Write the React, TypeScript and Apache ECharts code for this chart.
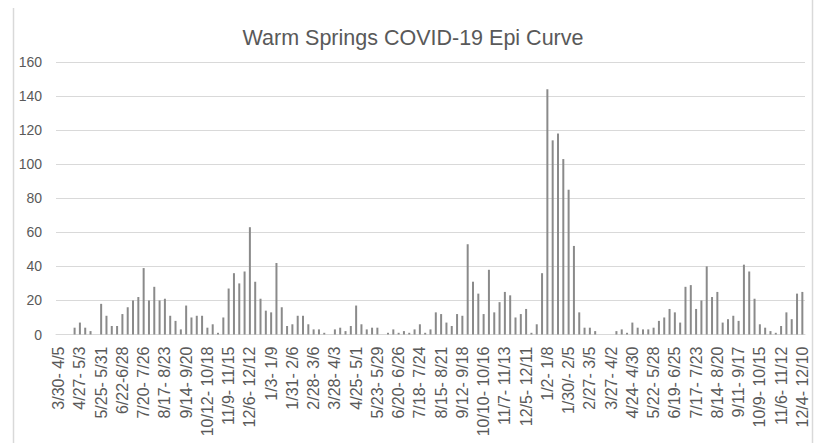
import React, { useEffect, useRef } from "react";
import * as echarts from "echarts";

const TITLE = "Warm Springs COVID-19 Epi Curve";

const weeks2020: string[] = [
  "3/30- 4/5", "4/6- 4/12", "4/13- 4/19", "4/20- 4/26",
  "4/27- 5/3", "5/4- 5/10", "5/11- 5/17", "5/18- 5/24",
  "5/25- 5/31", "6/1- 6/7", "6/8- 6/14", "6/15- 6/21",
  "6/22-6/28", "6/29- 7/5", "7/6- 7/12", "7/13- 7/19",
  "7/20- 7/26", "7/27- 8/2", "8/3- 8/9", "8/10- 8/16",
  "8/17- 8/23", "8/24- 8/30", "8/31- 9/6", "9/7- 9/13",
  "9/14- 9/20", "9/21- 9/27", "9/28- 10/4", "10/5- 10/11",
  "10/12- 10/18", "10/19- 10/25", "10/26- 11/1", "11/2- 11/8",
  "11/9- 11/15", "11/16- 11/22", "11/23- 11/29", "11/30- 12/5",
  "12/6- 12/12", "12/13- 12/19", "12/20- 12/26", "12/27- 1/2",
];

const weeks2021: string[] = [
  "1/3- 1/9", "1/10- 1/16", "1/17- 1/23", "1/24- 1/30",
  "1/31- 2/6", "2/7- 2/13", "2/14- 2/20", "2/21- 2/27",
  "2/28- 3/6", "3/7- 3/13", "3/14- 3/20", "3/21- 3/27",
  "3/28- 4/3", "4/4- 4/10", "4/11- 4/17", "4/18- 4/24",
  "4/25- 5/1", "5/2- 5/8", "5/9- 5/15", "5/16- 5/22",
  "5/23- 5/29", "5/30- 6/5", "6/6- 6/12", "6/13- 6/19",
  "6/20- 6/26", "6/27- 7/3", "7/4- 7/10", "7/11- 7/17",
  "7/18- 7/24", "7/25- 7/31", "8/1- 8/7", "8/8- 8/14",
  "8/15- 8/21", "8/22- 8/28", "8/29- 9/4", "9/5- 9/11",
  "9/12- 9/18", "9/19- 9/25", "9/26- 10/2", "10/3- 10/9",
  "10/10- 10/16", "10/17- 10/23", "10/24- 10/30", "10/31- 11/6",
  "11/7- 11/13", "11/14- 11/20", "11/21- 11/27", "11/28- 12/4",
  "12/5- 12/11", "12/12- 12/18", "12/19- 12/25", "12/26- 1/1",
];

const weeks2022: string[] = [
  "1/2- 1/8", "1/9- 1/15", "1/16- 1/22", "1/23- 1/29",
  "1/30/- 2/5", "2/6- 2/12", "2/13- 2/19", "2/20- 2/26",
  "2/27- 3/5", "3/6- 3/12", "3/13- 3/19", "3/20- 3/26",
  "3/27- 4/2", "4/3- 4/9", "4/10- 4/16", "4/17- 4/23",
  "4/24- 4/30", "5/1- 5/7", "5/8- 5/14", "5/15- 5/21",
  "5/22- 5/28", "5/29- 6/4", "6/5- 6/11", "6/12- 6/18",
  "6/19- 6/25", "6/26- 7/2", "7/3- 7/9", "7/10- 7/16",
  "7/17- 7/23", "7/24- 7/30", "7/31- 8/6", "8/7- 8/13",
  "8/14- 8/20", "8/21- 8/27", "8/28- 9/3", "9/4- 9/10",
  "9/11- 9/17", "9/18- 9/24", "9/25- 10/1", "10/2- 10/8",
  "10/9- 10/15", "10/16- 10/22", "10/23- 10/29", "10/30- 11/5",
  "11/6- 11/12", "11/13- 11/19", "11/20- 11/26", "11/27- 12/3",
  "12/4- 12/10",
];

const cases2020: number[] = [
  0, 0, 0, 4, 7, 4, 2, 0,
  18, 11, 5, 5, 12, 16, 20, 22, 39, 20, 28, 20, 21, 11, 8, 3,
  17, 10, 11, 11, 4, 6, 1, 10, 27, 36, 30, 37, 63, 31, 21, 14,
];

const cases2021: number[] = [
  13, 42, 16, 5, 6, 11, 11, 6, 3, 3, 1, 0, 3, 4, 2, 5,
  17, 6, 3, 4, 4, 0, 1, 3, 1, 2, 1, 3, 6, 1, 3, 13,
  12, 7, 5, 12, 11, 53, 31, 24, 12, 38, 13, 19, 25, 23, 10, 12,
  15, 1, 6, 36,
];

const cases2022: number[] = [
  144, 114, 118, 103, 85, 52, 13, 4, 4, 2, 0, 0, 0, 2, 3, 1,
  7, 4, 3, 3, 4, 8, 10, 15, 13, 7, 28, 29, 15, 20, 40, 22,
  25, 7, 9, 11, 8, 41, 37, 21, 6, 4, 2, 1, 5, 13, 9, 24,
  25,
];

const yTicks = { min: 0, max: 160, interval: 20 };

const categories = [...weeks2020, ...weeks2021, ...weeks2022];
const values = [...cases2020, ...cases2021, ...cases2022];

const FONT = "'Liberation Sans', Arial, sans-serif";
const TEXT = "#595959";
const GRID = "#d9d9d9";

export default function App() {
  const ref = useRef<HTMLDivElement>(null);
  useEffect(() => {
    if (!ref.current) return;
    const chart = echarts.init(ref.current, undefined, { renderer: "svg" });
    chart.setOption({
      animation: false,
      backgroundColor: "#ffffff",
      title: {
        text: TITLE,
        left: 413,
        top: 27,
        padding: 0,
        textAlign: "center",
        textStyle: { color: TEXT, fontSize: 21.5, fontWeight: "normal", fontFamily: FONT },
      },
      grid: { left: 56, right: 25, top: 62, bottom: 108.5, containLabel: false },
      xAxis: {
        type: "category",
        data: categories,
        axisLine: { show: true, lineStyle: { color: GRID, width: 1 } },
        axisTick: { show: false },
        axisLabel: {
          interval: 3,
          rotate: 90,
          margin: 12,
          color: TEXT,
          fontSize: 16,
          fontFamily: FONT,
        },
      },
      yAxis: {
        type: "value",
        min: yTicks.min,
        max: yTicks.max,
        interval: yTicks.interval,
        axisLine: { show: false },
        axisTick: { show: false },
        splitLine: { lineStyle: { color: GRID, width: 1 } },
        axisLabel: { color: TEXT, fontSize: 14, margin: 14, fontFamily: FONT },
      },
      series: [
        {
          type: "bar",
          data: values,
          barWidth: 2,
          itemStyle: { color: "#8a8a8a" },
        },
      ],
      graphic: [
        {
          type: "line",
          shape: { x1: 13.5, y1: 8, x2: 13.5, y2: 443 },
          style: { stroke: GRID, lineWidth: 1.5 },
        },
        {
          type: "line",
          shape: { x1: 812.5, y1: 0, x2: 812.5, y2: 443 },
          style: { stroke: GRID, lineWidth: 1.5 },
        },
      ],
    });
    return () => chart.dispose();
  }, []);
  return (
    <div
      ref={ref}
      style={{ position: "absolute", left: 0, top: 0, width: 830, height: 443 }}
    />
  );
}
